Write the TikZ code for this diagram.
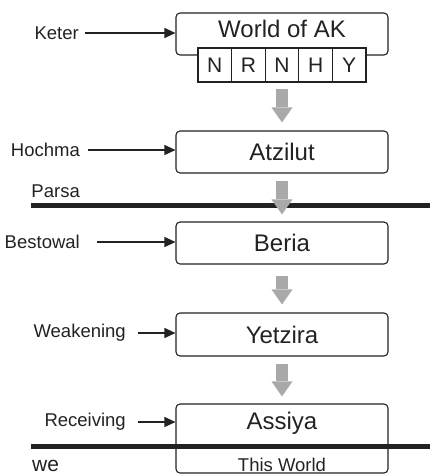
\documentclass[tikz,border=0pt]{standalone}
\usepackage{fontspec}
\setmainfont{Liberation Sans}
\usetikzlibrary{arrows.meta,positioning,calc}
\definecolor{inkdark}{HTML}{222222}
\definecolor{flowgray}{HTML}{A9A9A9}

\begin{document}
\begin{tikzpicture}[x=1pt, y=-1pt,
    worldbox/.style={draw=inkdark, line width=1.1pt, rounded corners=4pt, minimum width=212pt, minimum height=42pt, inner sep=0pt, text=inkdark, font=\fontsize{24}{28}\selectfont},
    letterbox/.style={draw=inkdark, line width=1.1pt, fill=white, minimum width=33.6pt, minimum height=34pt, inner sep=0pt, text=inkdark, font=\fontsize{21}{24}\selectfont},
    tag/.style={inner sep=0pt, anchor=east, text=inkdark, font=\fontsize{18.5}{22}\selectfont},
    pointer/.style={draw=inkdark, line width=1.1pt, -{Triangle[length=11pt, width=10pt]}},
    flow/.style={draw=flowgray, line width=12pt, -{Triangle[length=15pt, width=21pt, line width=0pt]}},
    border/.style={draw=inkdark, line width=5pt}]
    \useasboundingbox (0,0) rectangle (430,475);

    % borders
    \draw[border] (31,205.5) -- (430,205.5);
    \draw[border] (31,446.5) -- (430,446.5);

    \node[worldbox] (ak) at (282,34) {};
    \node[inner sep=0pt, text=inkdark, font=\fontsize{24}{28}\selectfont] (aktxt) at (282,29) {World of AK};
    \foreach \l [count=\i] in {N,R,N,H,Y}
        \node[letterbox] (let\i) at (198+33.6*\i-16.8,65) {\l};
    \node[worldbox] (atzilut) at (282,152) {Atzilut};
    \node[worldbox] (beria) at (282,243) {Beria};
    \node[worldbox, minimum height=43pt] (yetzira) at (282,334.5) {Yetzira};
    \node[worldbox, minimum height=69pt] (assiya) at (282,438.5) {};
    \node[inner sep=0pt, text=inkdark, font=\fontsize{24}{28}\selectfont] (assiyatxt) at (282,423) {Assiya};
    \node[inner sep=0pt, text=inkdark, font=\fontsize{18.5}{22}\selectfont] (thisworld) at (282,465) {This World};

    \node[tag] (keter) at (79,33) {Keter};
    \node[tag] (hochma) at (80,150) {Hochma};
    \node[tag] (parsa) at (80,191) {Parsa};
    \node[tag] (bestowal) at (80,242) {Bestowal};
    \node[tag] (weakening) at (126,333) {Weakening};
    \node[tag] (receiving) at (126,422) {Receiving};
    \node[inner sep=0pt, anchor=west, text=inkdark, font=\fontsize{21}{24}\selectfont] (we) at (32,466) {we};

    \draw[pointer, shorten <=6pt] (keter.east) -- (keter.east -| ak.west);
    \draw[pointer, shorten <=8pt] (hochma.east) -- (hochma.east -| atzilut.west);
    \draw[pointer, shorten <=17pt] (bestowal.east) -- (bestowal.east -| beria.west);
    \draw[pointer, shorten <=12pt] (weakening.east) -- (weakening.east -| yetzira.west);
    \draw[pointer, shorten <=12pt] (receiving.east) -- (receiving.east -| assiya.west);

    % flow down
    \draw[flow, shorten <=6pt, shorten >=8pt] (let3.south) -- (atzilut.north);
    \draw[flow, shorten <=7pt, shorten >=7pt] (atzilut.south) -- (beria.north);
    \draw[flow, shorten <=11pt, shorten >=8pt] (beria.south) -- (yetzira.north);
    \draw[flow, shorten <=7pt, shorten >=7pt] (yetzira.south) -- (assiya.north);
\end{tikzpicture}
\end{document}
